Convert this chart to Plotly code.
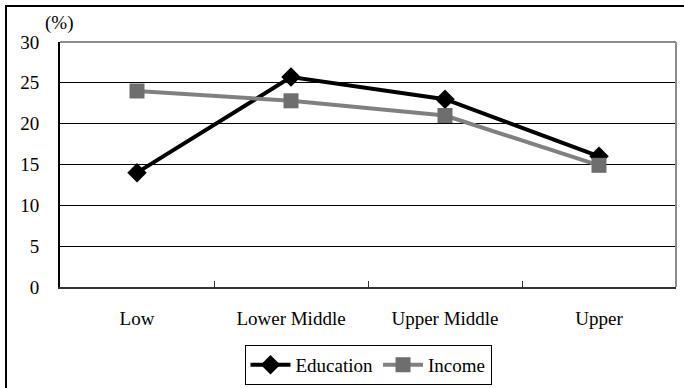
import plotly.graph_objects as go

categories = ["Low", "Lower Middle", "Upper Middle", "Upper"]
education = [14.0, 25.7, 23.0, 16.0]
income = [24.0, 22.8, 21.0, 14.9]
y_ticks = [0, 5, 10, 15, 20, 25, 30]

FONT = "Liberation Serif"
FS = 19

fig = go.Figure()
fig.add_trace(go.Scatter(
    x=categories, y=education, name="Education", mode="lines+markers",
    line=dict(color="#000000", width=4),
    marker=dict(symbol="diamond", size=15, color="#000000"),
    cliponaxis=False,
))
fig.add_trace(go.Scatter(
    x=categories, y=income, name="Income", mode="lines+markers",
    line=dict(color="#808080", width=4),
    marker=dict(symbol="square", size=15, color="#6e6e6e"),
    cliponaxis=False,
))

# left/top/right/bottom widths of the plot box in pixels
L, R, T, B = 60, 8, 42, 101
W, H = 684 - L - R, 388 - T - B

def px_x(p):
    return (p - L) / W

def px_y(p):
    return 1 - (p - T) / H

shapes = [
    # outer frame around the whole chart
    dict(type="rect", xref="paper", yref="paper",
         x0=px_x(6), x1=px_x(720), y0=px_y(420), y1=px_y(6),
         line=dict(color="#000000", width=2), layer="below"),
    # gray top and right edges of the plot box
    dict(type="line", xref="paper", yref="paper", x0=0, x1=1, y0=1, y1=1,
         line=dict(color="#8c8c8c", width=2)),
    dict(type="line", xref="paper", yref="paper", x0=1, x1=1, y0=0, y1=1,
         line=dict(color="#8c8c8c", width=2)),
]

fig.update_layout(
    width=684, height=388,
    margin=dict(l=L, r=R, t=T, b=B, autoexpand=False),
    paper_bgcolor="white", plot_bgcolor="white",
    font=dict(family=FONT, size=FS, color="#000000"),
    showlegend=True,
    legend=dict(
        orientation="h", x=0.5, xanchor="center", y=px_y(345), yanchor="top",
        bordercolor="#000000", borderwidth=1,
        font=dict(family=FONT, size=FS, color="#000000"),
        itemwidth=40, tracegroupgap=0,
    ),
    shapes=shapes,
    annotations=[dict(text="(%)", xref="paper", yref="paper",
                      x=px_x(59), y=px_y(23), xanchor="center", yanchor="middle",
                      showarrow=False, font=dict(family=FONT, size=FS, color="#000000"))],
    xaxis=dict(
        type="category", range=[-0.5, 3.5], tickson="boundaries",
        ticks="inside", ticklen=6, tickcolor="#333333", showgrid=False,
        showline=True, linecolor="#333333", linewidth=2,
        ticklabelstandoff=13, tickfont=dict(family=FONT, size=FS, color="#000000"),
    ),
    yaxis=dict(
        range=[0, 30], tickvals=y_ticks, showgrid=True, gridcolor="#000000",
        gridwidth=1, zeroline=False, showline=True, linecolor="#000000",
        linewidth=2, ticks="", ticklabelstandoff=15,
        tickfont=dict(family=FONT, size=FS, color="#000000"),
    ),
)

fig.write_html("out.html")
